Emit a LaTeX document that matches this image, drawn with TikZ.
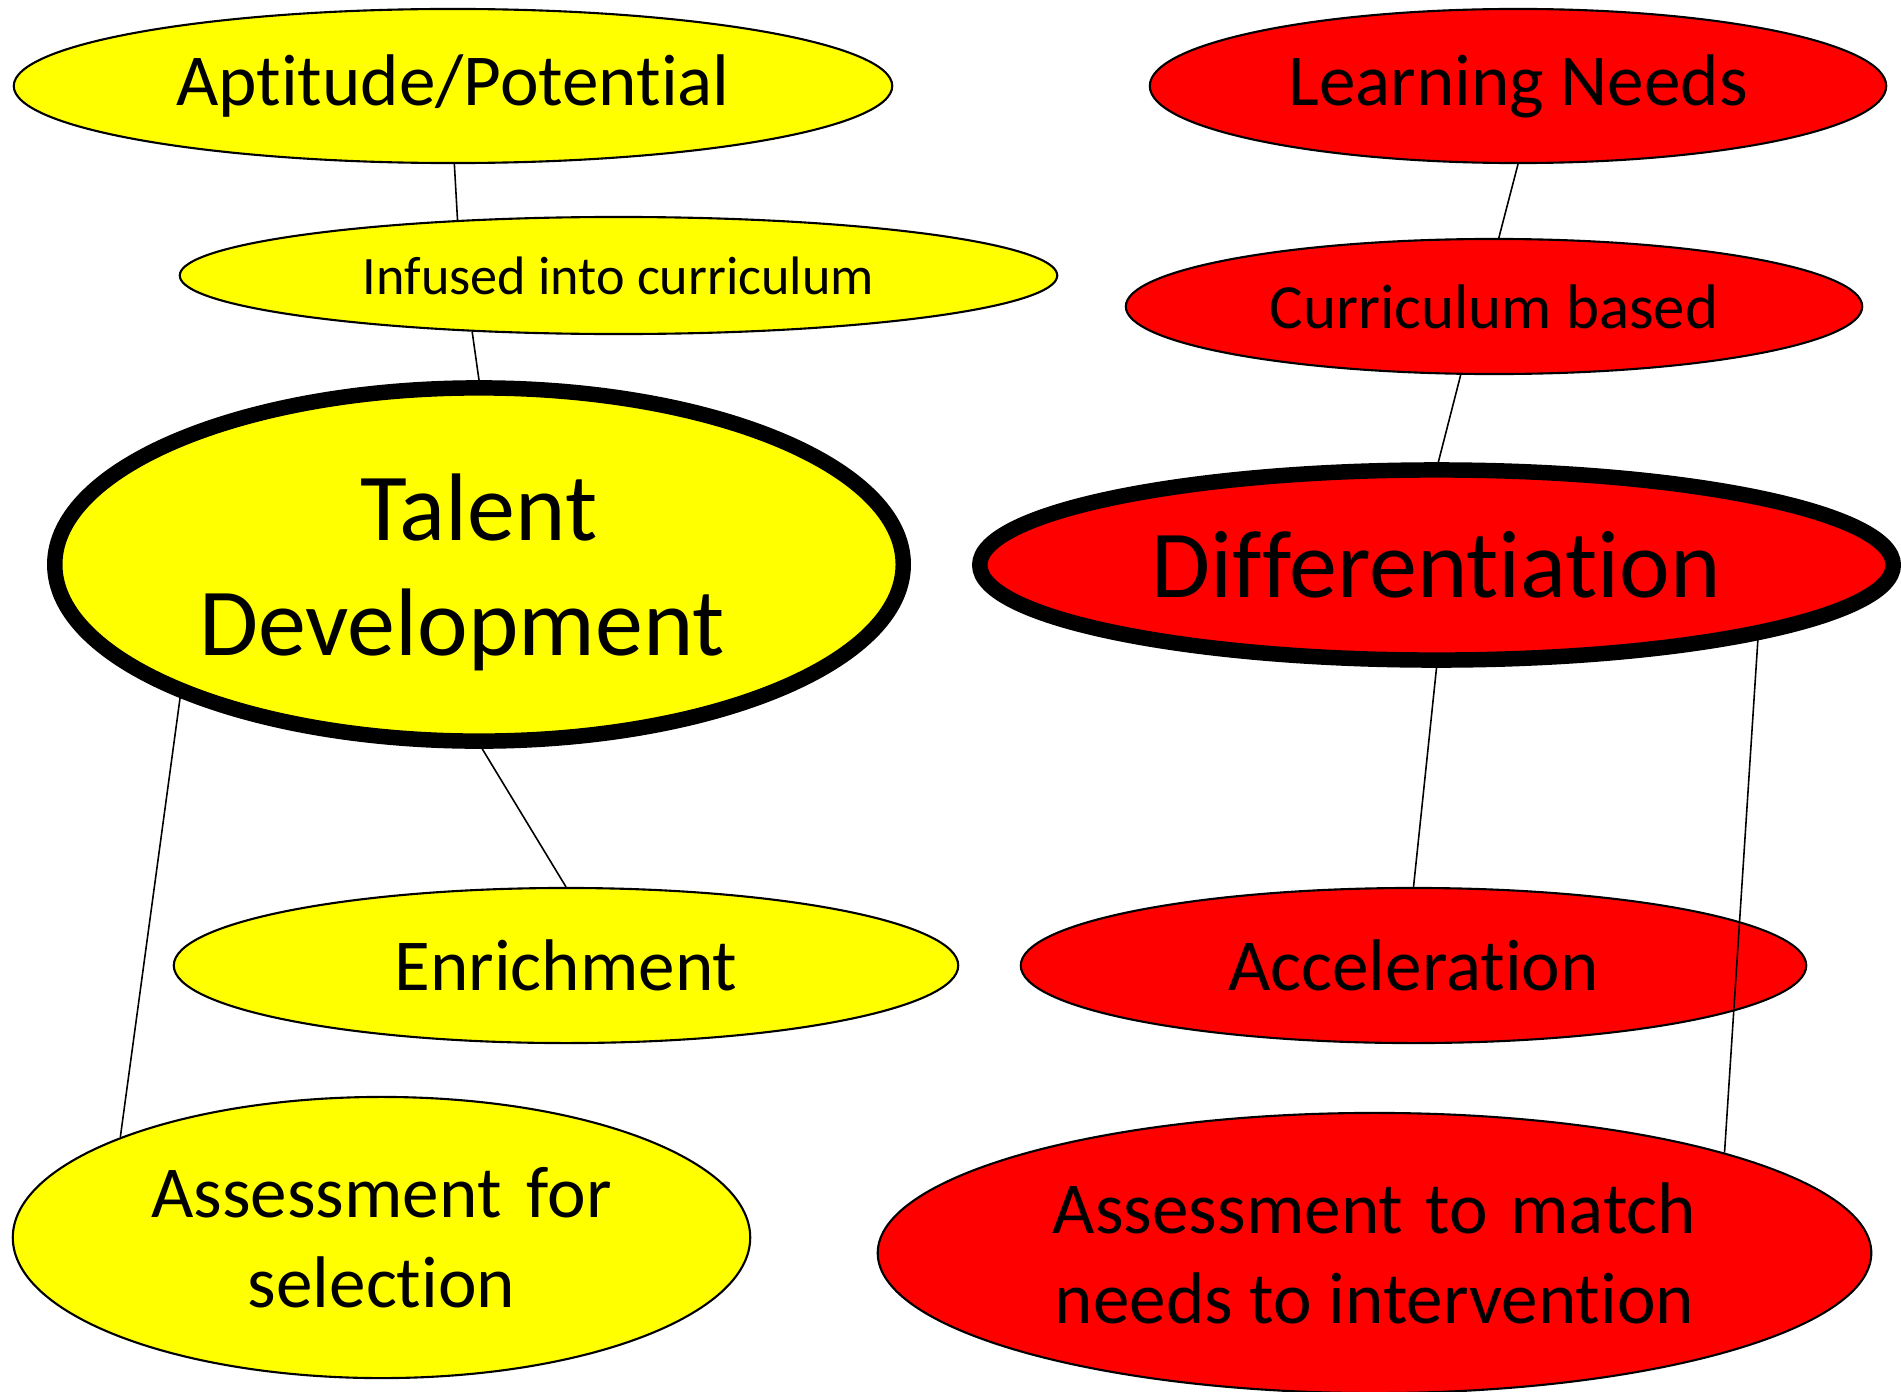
\documentclass[tikz,border=0pt]{standalone}
\usepackage{fontspec}
\setmainfont{Carlito}[RawFeature={-liga;-clig;-dlig}]
\usetikzlibrary{shapes.geometric}
\definecolor{yelfill}{RGB}{255,255,0}
\definecolor{redfill}{RGB}{255,0,0}
\newcommand\tIsep{t\kern0pt i}
\newcommand\fFsep{f\kern0pt f}
\begin{document}
\begin{tikzpicture}[x=0.01cm,y=-0.01cm,
  bub/.style={ellipse, draw=black, line width=0.6pt, inner sep=0pt, align=center, text=black},
  yel/.style={bub, fill=yelfill},
  rd/.style={bub, fill=redfill},
  big/.style={line width=4.4pt},
  fmid/.style={font=\fontsize{20.8}{25.6}\selectfont},
  fbig/.style={font=\fontsize{27.3}{32.7}\selectfont},
  link/.style={draw=black, line width=0.45pt}]
\useasboundingbox (0,0) rectangle (1901,1391);
\fill[white] (0,0) rectangle (1901,1391);
% left column
\node[yel, fmid, minimum width=8.78cm, minimum height=1.54cm] (apt) at (453,86) {\raisebox{-0.1cm}{Aptitude/Poten\tIsep al}};
\node[yel, font=\fontsize{15.4}{18}\selectfont, minimum width=8.77cm, minimum height=1.17cm] (inf) at (618.5,275.5) {Infused into curriculum};
\node[yel, big, minimum width=8.48cm, minimum height=3.53cm,
  label={[fbig, align=center, yshift=-0.08cm, text=black]center:Talent\\Development\hspace*{0.34cm}}] (td) at (479,564.5) {};
\node[yel, fmid, minimum width=7.84cm, minimum height=1.55cm] (enr) at (566,965.5) {Enrichment};
\node[yel, fmid, minimum width=7.37cm, minimum height=2.81cm] (asel) at (381.5,1237.5) {Assessment\hspace{0.12em} for\\selec\tIsep on};
% right column
\node[rd, fmid, minimum width=7.36cm, minimum height=1.54cm] (ln) at (1518,86) {\raisebox{-0.08cm}{Learning Needs}};
\node[rd, font=\fontsize{17.9}{21}\selectfont, minimum width=7.36cm, minimum height=1.35cm] (cb) at (1494,306.5) {Curriculum based};
\node[rd, big, fbig, minimum width=9.13cm, minimum height=1.90cm] (dif) at (1436.5,565) {Di\fFsep eren\tIsep a\tIsep on};
\node[rd, fmid, minimum width=7.85cm, minimum height=1.55cm] (acc) at (1413.5,965.5) {Accelera\tIsep on};
\node[rd, fmid, minimum width=9.93cm, minimum height=2.80cm] (amat) at (1374.5,1253) {Assessment\hspace{0.08em} to\hspace{0.08em} match\\needs to interven\tIsep on};
% connectors
\draw[link] (apt.271) -- (inf.161);
\draw[link] (inf.201) -- (td.90);
\draw[link] (td.271) -- (enr.90);
\draw[link] (td.204) -- (asel.159);
\draw[link] (ln.270) -- (cb.86);
\draw[link] (cb.244) -- (dif.89);
\draw[link] (dif.270) -- (acc.90);
\draw[link] (dif.347) -- (amat.16);
\end{tikzpicture}
\end{document}
